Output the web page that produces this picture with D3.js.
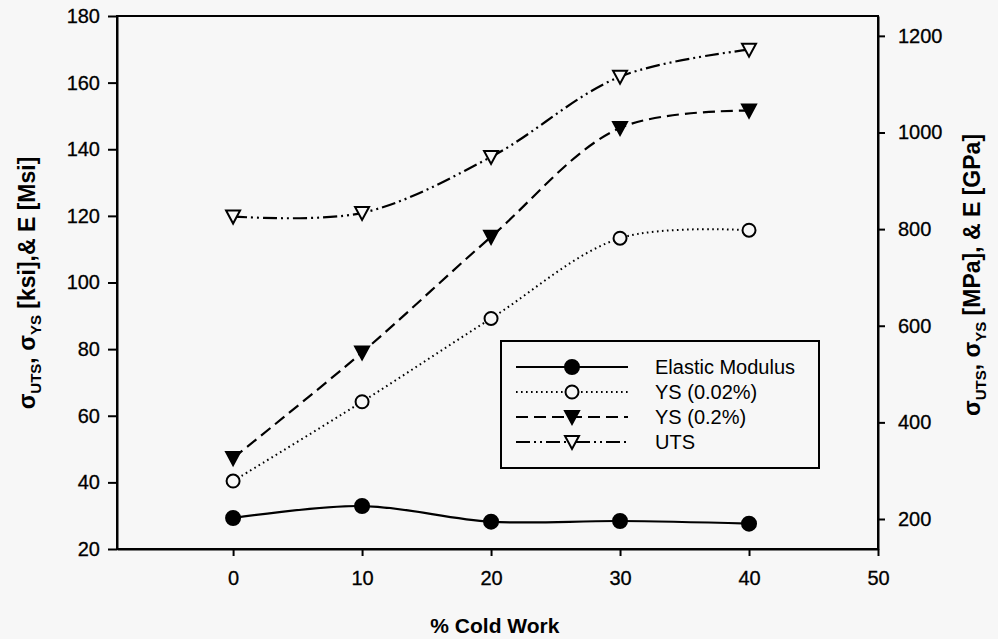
<!DOCTYPE html>
<html>
<head>
<meta charset="utf-8">
<script src="https://cdn.jsdelivr.net/npm/d3@7"></script>
<style>
  body { margin: 0; background: #f7f7f7; }
  svg { font-family: "Liberation Sans", Arial, sans-serif; }
</style>
</head>
<body>
<svg id="chart"></svg>
<script>
// data
var coldWork = [0, 10, 20, 30, 40];
var elasticModulus = [29.3, 32.9, 28.2, 28.4, 27.6];
var ys002 = [40.4, 64.2, 89.2, 113.3, 115.7];
var ys02 = [47.3, 79.0, 113.7, 146.4, 151.6];
var uts = [119.8, 120.9, 137.7, 161.8, 169.9];
var seriesNames = ["Elastic Modulus", "YS (0.02%)", "YS (0.2%)", "UTS"];
var xTicks = [0, 10, 20, 30, 40, 50];
var leftTicks = [20, 40, 60, 80, 100, 120, 140, 160, 180];
var rightTicks = [200, 400, 600, 800, 1000, 1200];
var ksiToMPa = 6.895;

var width = 998, height = 639;
var margin = { top: 16, right: 120, bottom: 90, left: 117 };

var svg = d3.select("#chart")
  .attr("width", width)
  .attr("height", height);

svg.append("rect").attr("width", width).attr("height", height).attr("fill", "#f7f7f7");

var x = d3.scaleLinear().domain([-9, 50]).range([margin.left, 878]);
var y = d3.scaleLinear().domain([20, 180]).range([549, margin.top]);
var yRight = d3.scaleLinear().domain([20 * ksiToMPa, 180 * ksiToMPa]).range([549, margin.top]);

// frame
svg.append("rect")
  .attr("x", x(-9)).attr("y", y(180))
  .attr("width", x(50) - x(-9)).attr("height", y(20) - y(180))
  .attr("fill", "none").attr("stroke", "#000").attr("stroke-width", 2);

// axes
var xAxis = svg.append("g")
  .attr("transform", "translate(0," + y(20) + ")")
  .call(d3.axisBottom(x).tickValues(xTicks).tickSize(7).tickSizeOuter(0).tickPadding(15));
var leftAxis = svg.append("g")
  .attr("transform", "translate(" + x(-9) + ",0)")
  .call(d3.axisLeft(y).tickValues(leftTicks).tickSize(9).tickSizeOuter(0).tickPadding(8));
var rightAxis = svg.append("g")
  .attr("transform", "translate(" + x(50) + ",0)")
  .call(d3.axisRight(yRight).tickValues(rightTicks).tickFormat(d3.format("d"))
    .tickSize(7).tickSizeOuter(0).tickPadding(13));

[xAxis, leftAxis, rightAxis].forEach(function(a) {
  a.select(".domain").attr("stroke-width", 2);
  a.selectAll(".tick line").attr("stroke-width", 2);
  a.selectAll(".tick text").attr("font-size", 20).attr("fill", "#000")
    .attr("stroke", "#000").attr("stroke-width", 0.3);
});

// axis titles
svg.append("text")
  .attr("x", x(20.3)).attr("y", 633)
  .attr("text-anchor", "middle").attr("font-size", 21).attr("font-weight", "bold")
  .text("% Cold Work");

function sigmaTitle(g, rest) {
  var t = g.append("text").attr("text-anchor", "middle").attr("font-size", 23).attr("font-weight", "bold");
  t.append("tspan").text("σ");
  t.append("tspan").attr("font-size", 15).attr("dy", 6).text("UTS");
  t.append("tspan").attr("dy", -6).text(", σ");
  t.append("tspan").attr("font-size", 15).attr("dy", 6).text("YS");
  t.append("tspan").attr("dy", -6).text(rest);
}
sigmaTitle(svg.append("g").attr("transform", "translate(35,283) rotate(-90)"), " [ksi],& E [Msi]");
sigmaTitle(svg.append("g").attr("transform", "translate(980,275) rotate(-90)"), " [MPa], & E [GPa]");

// series
var series = [
  { name: seriesNames[0], values: elasticModulus, dash: null, marker: "circle", fill: "#000" },
  { name: seriesNames[1], values: ys002, dash: "1.6,3.4", marker: "circle", fill: "#f7f7f7" },
  { name: seriesNames[2], values: ys02, dash: "12,6", marker: "triangle", fill: "#000" },
  { name: seriesNames[3], values: uts, dash: "14,4,2,4,2,4", marker: "triangle", fill: "#f7f7f7" }
];

var line = d3.line()
  .x(function(d) { return x(d[0]); })
  .y(function(d) { return y(d[1]); })
  .curve(d3.curveCatmullRom.alpha(0.5));

var triDown = "M-7,-6L7,-6L0,7Z";

function drawMarker(g, s, cx, cy) {
  if (s.marker === "circle") {
    g.append("circle").attr("cx", cx).attr("cy", cy).attr("r", s.fill === "#000" ? 7 : 6.5)
      .attr("fill", s.fill).attr("stroke", "#000").attr("stroke-width", 2);
  } else {
    g.append("path").attr("d", triDown).attr("transform", "translate(" + cx + "," + cy + ")")
      .attr("fill", s.fill).attr("stroke", "#000").attr("stroke-width", 2).attr("stroke-linejoin", "miter");
  }
}

series.forEach(function(s) {
  var pts = coldWork.map(function(c, i) { return [c, s.values[i]]; });
  var g = svg.append("g");
  g.append("path")
    .attr("d", line(pts))
    .attr("fill", "none").attr("stroke", "#000")
    .attr("stroke-width", s.dash === "1.6,3.4" ? 2 : 2.2)
    .attr("stroke-dasharray", s.dash);
  pts.forEach(function(p) { drawMarker(g, s, x(p[0]), y(p[1])); });
});

// legend
var legend = svg.append("g");
legend.append("rect")
  .attr("x", 501).attr("y", 341).attr("width", 318).attr("height", 127)
  .attr("fill", "#f7f7f7").attr("stroke", "#000").attr("stroke-width", 2);
series.forEach(function(s, i) {
  var ly = 367 + i * 25;
  legend.append("line")
    .attr("x1", 516).attr("x2", 628).attr("y1", ly).attr("y2", ly)
    .attr("stroke", "#000").attr("stroke-width", 2).attr("stroke-dasharray", s.dash);
  drawMarker(legend, s, 572, ly);
  legend.append("text")
    .attr("x", 655).attr("y", ly + 7)
    .attr("font-size", 20).text(s.name);
});
</script>
</body>
</html>
